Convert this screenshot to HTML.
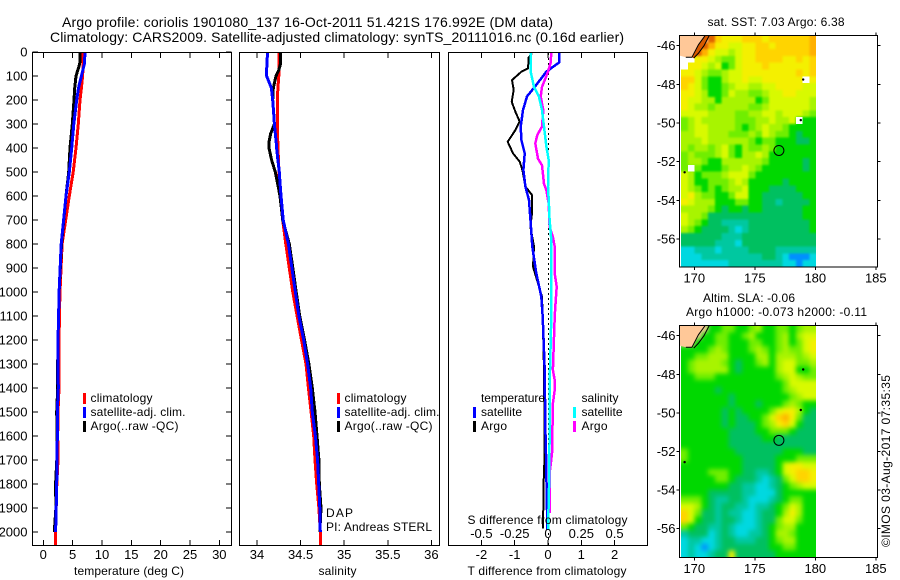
<!DOCTYPE html>
<html lang="en">
<head>
<meta charset="utf-8">
<title>Argo profile chart</title>
<style>
html,body{margin:0;padding:0;background:#fff;width:900px;height:580px;overflow:hidden}
svg{display:block}
text{font-family:"Liberation Sans",sans-serif;font-size:12px;fill:#000}
</style>
</head>
<body>
<svg id="chart" xmlns="http://www.w3.org/2000/svg" width="900" height="580" viewBox="0 0 900 580">
<defs>
<clipPath id="clip-t"><rect x="32.5" y="52" width="199" height="493.5"/></clipPath>
<clipPath id="clip-s"><rect x="239.5" y="52" width="200" height="493.5"/></clipPath>
<clipPath id="clip-d"><rect x="448.5" y="52" width="199.5" height="493.5"/></clipPath>
<clipPath id="clip-m1"><rect x="681" y="35.5" width="135" height="231.5"/></clipPath>
<clipPath id="clip-m2"><rect x="681" y="325.5" width="135" height="232"/></clipPath>
<clipPath id="clip-f1"><rect x="679.5" y="35.5" width="198" height="231.5"/></clipPath>
<clipPath id="clip-f2"><rect x="679.5" y="325.5" width="198" height="232"/></clipPath>
<filter id="blur-sst" x="-10%" y="-10%" width="120%" height="120%" color-interpolation-filters="sRGB"><feGaussianBlur stdDeviation="1.1"/></filter>
<filter id="blur-sla" x="-10%" y="-10%" width="120%" height="120%" color-interpolation-filters="sRGB"><feGaussianBlur stdDeviation="2.4"/></filter>
</defs>
</svg>
<script>
// ---------- profile data ----------
const tempDepths = [0,50,100,150,200,300,400,500,600,800,1000,1100,1200,1300,1400,1500,1600,1700,1800,1900,2000,2055];
const tempClim = [6.8,6.8,6.7,6.5,6.25,5.96,5.57,5.1,4.43,3.2,2.85,2.75,2.7,2.65,2.67,2.5,2.45,2.5,2.3,2.2,2.1,2.1];
const tempSat = [7.1,7,6.5,6,5.7,5.2,4.84,4.43,3.87,3.05,2.7,2.6,2.5,2.5,2.55,2.39,2.39,2.35,2.28,2.2,2.1];
const tempArgo = [6.3,6.2,5.57,5.35,5.23,4.94,4.55,4.33,3.87,3.1,2.7,2.6,2.5,2.45,2.45,2.28,2.35,2.3,2.1,2.15,1.87];
const salDepths = [0,50,75,100,150,200,250,300,340,375,400,450,500,550,600,700,800,900,1000,1100,1200,1300,1400,1500,1600,1700,1800,1900,2000,2055];
const salClim = [34.25,34.25,34.25,34.25,34.24,34.233,34.233,34.233,34.235,34.238,34.24,34.246,34.252,34.26,34.27,34.295,34.33,34.37,34.41,34.46,34.51,34.562,34.59,34.62,34.65,34.665,34.685,34.71,34.726,34.726];
const salSat = [34.12,34.115,34.11,34.11,34.165,34.18,34.19,34.2,34.21,34.22,34.225,34.24,34.256,34.265,34.275,34.3,34.36,34.4,34.44,34.48,34.535,34.58,34.616,34.634,34.67,34.695,34.707,34.72,34.726];
const salArgo = [34.27,34.27,34.25,34.218,34.187,34.18,34.19,34.2,34.157,34.138,34.138,34.168,34.21,34.237,34.264,34.295,34.37,34.41,34.45,34.49,34.545,34.595,34.634,34.665,34.688,34.71,34.715,34.734,34.72];
const dtSatDepths = [0,44,82,146,185,242,311,367,422,492,561,617,713,811,922,1019,1103,1325,1561,1673,1908,1992];
const dtSat = [0.33,0.33,-0.05,-0.4,-0.63,-0.75,-0.82,-0.8,-0.7,-0.74,-0.68,-0.57,-0.52,-0.47,-0.35,-0.2,-0.16,-0.1,-0.08,-0.06,-0.03,-0.02];
const dtArgoDepths = [5,23,68,82,117,158,207,249,290,325,374,422,457,492,561,596,672,728,811,894,1019,1103,1325,1673,1783,1986];
const dtArgo = [-0.48,-0.58,-0.6,-0.8,-1.08,-1.03,-1.09,-0.98,-0.85,-0.98,-1.21,-1.05,-0.85,-0.77,-0.68,-0.48,-0.48,-0.53,-0.42,-0.45,-0.18,-0.16,-0.12,-0.1,-0.13,-0.15];
const dsSatDepths = [0,82,146,186,242,311,394,450,561,630,700,783,1103,1325,1600,1800,1992];
const dsSat = [-0.13,-0.13,-0.105,-0.068,-0.045,-0.03,-0.012,0.005,0,0.007,0.012,0.025,0.025,0.015,0.012,0.008,0];
const dsArgoDepths = [0,44,82,146,186,242,311,346,381,444,472,549,576,632,729,771,811,922,978,1061,1103,1325,1367,1408,1464,1673,1742,1921];
const dsArgo = [0.025,0.02,0,-0.045,-0.055,-0.035,-0.045,-0.08,-0.095,-0.075,-0.045,-0.03,-0.012,0.005,0.012,0.037,0.05,0.05,0.065,0.055,0.05,0.037,0.05,0.05,0.037,0.03,0.015,0.012];

// ---------- ticks ----------
const depthTicks = [0,100,200,300,400,500,600,700,800,900,1000,1100,1200,1300,1400,1500,1600,1700,1800,1900,2000];
const tempTicks = [0,5,10,15,20,25,30];
const salTicks = [34,34.5,35,35.5,36];
const dtTicks = [-2,-1,0,1,2];
const dsTicks = [-0.5,-0.25,0,0.25,0.5];
const lonTicks = [170,175,180,185];
const latTicks = [46,48,50,52,54,56];

// ---------- map grids (level index; 12 = land, 13 = missing) ----------
const levelColors = ['#0090ff','#00d8e0','#00c8a0','#00c060','#00d800','#70ee00','#a8f400','#d8fa00','#f4f000','#ffd400','#ffb000','#e06400','#ffc898','#ffffff'];
const sstGrid = [
[12,12,12,12,11,9,8,8,8,9,9,9,8,9,9,9,9,9,9,10],
[12,12,12,11,10,8,8,7,7,8,8,9,9,8,9,9,9,9,9,10],
[12,12,11,10,8,7,7,6,7,8,8,9,9,9,9,9,9,9,9,10],
[13,13,8,8,7,6,5,5,7,8,8,9,9,9,9,8,8,9,8,9],
[13,8,8,7,6,7,4,5,7,8,8,8,9,8,8,8,8,8,8,9],
[8,8,7,6,5,5,6,7,7,8,8,8,8,8,8,8,8,9,8,9],
[9,9,7,5,4,4,6,7,7,8,7,7,8,8,8,8,8,8,13,8],
[9,8,7,5,4,4,5,6,7,7,6,6,7,7,8,8,8,8,7,7],
[8,8,7,6,4,4,5,7,6,6,5,5,6,7,7,8,8,7,7,7],
[8,7,7,6,6,4,6,6,6,6,6,4,5,7,7,7,7,7,7,6],
[8,7,6,6,5,6,6,6,6,6,5,5,6,7,7,7,7,7,7,6],
[7,7,7,7,6,6,6,6,5,5,6,6,7,7,6,7,7,7,6,5],
[5,6,7,6,6,6,6,6,5,5,5,6,6,7,6,6,7,13,4,4],
[5,6,7,7,6,6,6,6,5,4,5,6,7,6,6,5,4,4,4,4],
[6,6,7,7,6,6,6,5,5,5,6,5,7,6,5,5,4,3,4,4],
[6,6,6,7,6,6,6,6,6,6,5,4,5,5,4,4,4,3,3,4],
[6,5,6,6,5,6,7,5,4,6,5,5,6,5,4,4,4,4,4,4],
[5,6,5,5,5,6,7,5,4,6,6,7,6,4,4,4,4,4,4,4],
[5,6,6,5,4,4,6,6,6,6,6,6,5,4,4,4,4,4,3,4],
[5,13,5,4,4,4,5,6,6,7,6,5,4,4,4,4,4,4,3,4],
[7,6,4,5,5,5,6,7,7,7,5,4,4,4,4,4,4,4,4,4],
[7,6,4,4,5,5,5,6,7,6,4,4,4,4,4,3,4,4,4,4],
[7,6,5,4,5,4,5,6,6,7,4,4,4,3,3,3,3,4,4,4],
[7,8,6,5,5,4,4,5,7,7,4,4,3,3,3,3,3,3,4,4],
[8,7,6,6,6,4,4,4,5,5,4,4,3,3,2,3,3,3,3,4],
[6,6,6,6,5,4,3,4,4,3,4,4,3,3,3,3,3,3,4,4],
[7,6,6,5,3,3,3,3,3,3,3,3,3,3,3,3,3,3,4,4],
[7,6,5,4,3,3,2,2,2,2,3,3,3,3,3,3,3,3,3,4],
[6,5,4,3,3,3,3,2,1,2,3,3,3,3,3,3,3,3,3,4],
[3,3,3,3,3,3,2,2,2,3,3,3,3,3,3,3,3,3,3,3],
[3,3,3,3,3,2,2,2,1,3,3,3,3,3,3,3,3,3,3,3],
[1,1,2,2,2,1,2,2,2,2,3,3,3,3,2,2,2,2,2,2],
[1,1,1,2,2,2,2,2,2,2,2,2,3,3,2,1,0,0,0,1],
[1,1,1,1,1,1,1,2,2,2,2,2,2,2,2,1,1,0,1,1]
];
const slaGrid = [
[12,12,12,12,4,4,5,5,4,4,5,6,4,4,5,5,4,5,6,6],
[12,12,12,4,4,5,5,4,4,5,6,4,4,4,5,6,4,6,7,7],
[12,12,4,4,4,5,5,4,4,4,5,5,4,4,5,6,4,5,7,8],
[4,4,4,4,5,6,5,4,4,4,5,6,5,4,5,6,5,5,7,8],
[4,4,5,5,6,6,6,4,4,4,4,6,6,4,6,6,6,5,6,7],
[4,5,6,6,6,6,5,4,3,4,4,5,6,4,6,7,7,5,5,6],
[4,5,6,6,6,6,6,4,3,4,4,4,4,4,6,7,7,4,4,5],
[4,4,5,5,5,4,4,4,4,4,4,4,4,4,5,6,7,6,5,5],
[4,4,4,4,4,4,4,4,4,4,4,4,4,4,4,5,7,7,7,7],
[4,4,4,4,4,3,4,4,4,4,4,4,4,4,4,5,6,7,7,7],
[4,4,4,4,4,4,4,3,4,4,4,4,4,4,4,4,5,6,7,7],
[4,4,4,4,4,4,4,3,4,4,4,3,4,4,4,5,6,5,4,4],
[4,4,4,4,4,4,3,4,3,4,4,4,4,5,7,8,8,6,4,3],
[4,4,4,4,4,4,3,4,3,3,4,4,5,7,9,10,8,5,3,3],
[4,4,4,4,4,4,3,4,3,3,3,4,5,6,8,9,7,4,3,3],
[4,4,4,4,4,4,4,3,3,3,3,4,4,5,5,5,4,3,3,3],
[4,4,4,4,4,4,4,3,3,3,3,3,4,4,3,3,3,3,3,3],
[4,4,4,4,4,4,4,3,3,3,3,3,3,3,3,3,3,3,3,3],
[5,4,4,4,4,4,4,4,3,3,3,3,3,3,3,4,4,4,3,3],
[5,4,4,4,4,4,4,4,4,3,3,3,3,3,4,4,4,5,5,5],
[4,4,4,4,4,4,4,4,4,3,3,3,3,3,4,7,8,8,7,7],
[4,4,4,4,5,5,5,4,4,3,3,2,2,3,4,7,8,9,9,8],
[4,4,4,4,4,5,5,4,3,3,3,2,1,2,3,5,7,9,9,8],
[4,4,4,4,4,4,4,3,3,2,2,1,1,2,3,4,5,6,7,7],
[4,4,4,4,3,3,3,3,3,2,2,1,1,1,3,4,4,4,4,4],
[5,5,5,4,3,2,2,3,3,2,1,1,1,2,3,4,5,5,4,4],
[7,7,6,4,3,2,3,3,2,2,1,2,2,3,4,5,7,6,4,4],
[9,7,5,3,3,2,3,2,2,1,1,2,3,3,4,6,8,6,4,4],
[9,7,4,3,3,2,3,3,2,1,1,2,3,3,5,7,7,5,4,4],
[5,4,3,3,2,2,3,2,1,1,1,2,3,4,5,6,6,4,4,4],
[2,3,3,3,1,2,3,2,1,1,2,2,3,4,6,6,5,4,4,4],
[1,2,2,1,1,2,3,3,2,2,2,3,3,4,5,6,6,4,4,4],
[1,2,1,0,1,2,3,3,3,3,3,3,3,4,4,5,5,4,4,4],
[1,2,1,1,2,3,3,8,3,3,3,3,3,3,4,4,4,4,4,4]
];
const landLons = [168.7,170.98,170.35,169.8,169.3,168.7];
const landLats = [45.4,45.4,45.95,46.6,46.6,46.5];
const shelfLons = [171.3,170.98,170.35,169.8,169.95,170.8];
const shelfLats = [45.4,45.4,45.95,46.6,46.64,46];
const coast2Lons = [171.3,170.8,170.33,169.95];
const coast2Lats = [45.4,46,46.4,46.64];
const islandLons = [179,178.8,169.2];
const islandLats = [47.75,49.85,52.55];
const argoLon = 176.992;
const argoLat = 51.421;

// ---------- axis functions ----------
const yDepth = d => 52 + 0.24 * d;
const xTemp = t => 43.3 + 5.867 * t;
const xSal = s => 257 + 87.2 * (s - 34);
const xDT = t => 548 + 33.3 * t;
const xDS = s => 548 + 133.2 * s;
const xLon = lon => 694.3 + 12.1 * (lon - 170);
const yLat1 = lat => 45.7 + 19.33 * (lat - 46);
const yLat2 = lat => 335.7 + 19.3 * (lat - 46);
const cellX = c => 681 + 6.75 * c;
const cellY1 = r => 35.5 + (231.5 / 34) * r;
const cellY2 = r => 325.5 + (232 / 34) * r;

const svg = document.getElementById('chart');
const NS = 'http://www.w3.org/2000/svg';
function mk(tag, attrs, parent) {
  const el = document.createElementNS(NS, tag);
  for (const k in attrs) el.setAttribute(k, attrs[k]);
  (parent || svg).appendChild(el);
  return el;
}
function label(str, x, y, name, opts) {
  const a = Object.assign({x: x, y: y}, opts || {});
  const el = mk('text', a);
  el.textContent = str;
  
  
  return el;
}
function line(x1, y1, x2, y2, name, parent) {
  const el = mk('line', {x1: x1, y1: y1, x2: x2, y2: y2, stroke: '#000', 'stroke-width': 1, 'shape-rendering': 'crispEdges'}, parent);
  
  
  return el;
}
function frame(x, y, w, h, name) {
  const el = mk('rect', {x: x, y: y, width: w, height: h, fill: 'none', stroke: '#000', 'stroke-width': 1, 'shape-rendering': 'crispEdges'});
  
  
  return el;
}
function series(vals, depths, xf, color, width, clip, name) {
  const pts = [];
  for (let i = 0; i < vals.length && i < depths.length; i++) pts.push(xf(vals[i]).toFixed(1) + ',' + yDepth(depths[i]).toFixed(1));
  const el = mk('polyline', {points: pts.join(' '), fill: 'none', stroke: color, 'stroke-width': width, 'clip-path': 'url(#' + clip + ')', 'shape-rendering': 'crispEdges'});
  
  
  return el;
}
function legendMark(x, y, color, name) {
  const el = mk('rect', {x: x, y: y, width: 3, height: 11, fill: color, 'shape-rendering': 'crispEdges'});
  
  
}

// ---------- titles ----------
label('Argo profile: coriolis 1901080_137 16-Oct-2011 51.421S 176.992E (DM data)', 62, 27, 'chart-title-line-1', {textLength: 491, style: 'font-size:14px'});
label('Climatology: CARS2009. Satellite-adjusted climatology: synTS_20111016.nc (0.16d earlier)', 50, 42, 'chart-title-line-2', {textLength: 574, style: 'font-size:14px'});

// ---------- temperature panel ----------
series(tempClim, tempDepths, xTemp, '#ff0000', 3, 'clip-t', 'temperature-climatology-line');
series(tempArgo, tempDepths, xTemp, '#000000', 3, 'clip-t', 'temperature-argo-line');
series(tempSat, tempDepths, xTemp, '#0000ff', 3, 'clip-t', 'temperature-satellite-line');
frame(32.5, 52.5, 199, 493, 'temperature-panel-frame');
depthTicks.forEach(d => {
  line(32.5, yDepth(d), 38, yDepth(d), 'depth-tick-left');
  line(226, yDepth(d), 231.5, yDepth(d), 'depth-tick-right');
  label(String(d), 27.5, yDepth(d) + 4.5, 'depth-tick-label', {'text-anchor': 'end', style: 'font-size:13px'});
});
tempTicks.forEach(t => {
  line(xTemp(t), 52.5, xTemp(t), 58, 'temperature-tick-top');
  line(xTemp(t), 540, xTemp(t), 545.5, 'temperature-tick-bottom');
  label(String(t), xTemp(t), 559, 'temperature-tick-label', {'text-anchor': 'middle', style: 'font-size:13px'});
});
label('temperature (deg C)', 74, 575, 'temperature-axis-title', {textLength: 110});
legendMark(83, 393, '#ff0000', 'temperature-legend-climatology-mark');
legendMark(83, 407, '#0000ff', 'temperature-legend-satellite-mark');
legendMark(83, 421, '#000000', 'temperature-legend-argo-mark');
label('climatology', 90.5, 402, 'temperature-legend-climatology', {textLength: 62});
label('satellite-adj. clim.', 90.5, 416, 'temperature-legend-satellite', {textLength: 95});
label('Argo(..raw -QC)', 90.5, 430, 'temperature-legend-argo', {textLength: 88});

// ---------- salinity panel ----------
series(salClim, salDepths, xSal, '#ff0000', 3, 'clip-s', 'salinity-climatology-line');
series(salArgo, salDepths, xSal, '#000000', 3, 'clip-s', 'salinity-argo-line');
series(salSat, salDepths, xSal, '#0000ff', 3, 'clip-s', 'salinity-satellite-line');
frame(239.5, 52.5, 200, 493, 'salinity-panel-frame');
salTicks.forEach(s => {
  line(xSal(s), 52.5, xSal(s), 58, 'salinity-tick-top');
  line(xSal(s), 540, xSal(s), 545.5, 'salinity-tick-bottom');
  label(String(s), xSal(s), 559, 'salinity-tick-label', {'text-anchor': 'middle', style: 'font-size:13px'});
});
label('salinity', 318.5, 575, 'salinity-axis-title', {textLength: 38});
legendMark(337, 393, '#ff0000', 'salinity-legend-climatology-mark');
legendMark(337, 407, '#0000ff', 'salinity-legend-satellite-mark');
legendMark(337, 421, '#000000', 'salinity-legend-argo-mark');
label('climatology', 344.5, 402, 'salinity-legend-climatology', {textLength: 62});
label('satellite-adj. clim.', 344.5, 416, 'salinity-legend-satellite', {textLength: 95});
label('Argo(..raw -QC)', 344.5, 430, 'salinity-legend-argo', {textLength: 88});
label('DAP', 326, 517, 'dac-label', {textLength: 27});
label('PI: Andreas STERL', 326, 531, 'principal-investigator-label', {textLength: 106});

// ---------- difference panel ----------
for (let y = yDepth(0) + 1; y < 545; y += 5) {
  const dot = mk('rect', {x: xDT(0), y: y, width: 1, height: 2, fill: '#000', 'shape-rendering': 'crispEdges'});
  
  
}
series(dtArgo, dtArgoDepths, xDT, '#000000', 2, 'clip-d', 'temperature-difference-argo-line');
series(dtSat, dtSatDepths, xDT, '#0000ff', 2.5, 'clip-d', 'temperature-difference-satellite-line');
series(dsArgo, dsArgoDepths, xDS, '#ff00ff', 2.5, 'clip-d', 'salinity-difference-argo-line');
series(dsSat, dsSatDepths, xDS, '#00ffff', 2.5, 'clip-d', 'salinity-difference-satellite-line');
frame(448.5, 52.5, 199, 493, 'difference-panel-frame');
dtTicks.forEach(t => {
  line(xDT(t), 52.5, xDT(t), 58, 'difference-tick-top');
  line(xDT(t), 540, xDT(t), 545.5, 'difference-tick-bottom');
  label(String(t), xDT(t), 559, 'temperature-difference-tick-label', {'text-anchor': 'middle', style: 'font-size:13px'});
});
dsTicks.forEach(s => {
  label(String(s), xDS(s), 538, 'salinity-difference-tick-label', {'text-anchor': 'middle', style: 'font-size:13px'});
});
label('S difference from climatology', 467.5, 524, 'salinity-difference-axis-title', {textLength: 160});
label('T difference from climatology', 467.5, 575, 'temperature-difference-axis-title', {textLength: 159});
label('temperature', 481, 402, 'difference-legend-temperature-heading', {textLength: 64});
label('satellite', 481, 416, 'difference-legend-temperature-satellite', {textLength: 41});
label('Argo', 481, 430, 'difference-legend-temperature-argo', {textLength: 26});
label('salinity', 581.5, 402, 'difference-legend-salinity-heading', {textLength: 37});
label('satellite', 581.5, 416, 'difference-legend-salinity-satellite', {textLength: 41});
label('Argo', 581.5, 430, 'difference-legend-salinity-argo', {textLength: 26});
legendMark(473, 407, '#0000ff', 'difference-legend-temperature-satellite-mark');
legendMark(473, 421, '#000000', 'difference-legend-temperature-argo-mark');
legendMark(573, 407, '#00ffff', 'difference-legend-salinity-satellite-mark');
legendMark(573, 421, '#ff00ff', 'difference-legend-salinity-argo-mark');

// ---------- maps ----------
function drawMap(grid, cy, yLat, top, bottom, clip, frameClip, blurId, fillShelf, prefix) {
  const clipGroup = mk('g', {'clip-path': 'url(#' + clip + ')'});
  
  
  const blurGroup = mk('g', {filter: 'url(#' + blurId + ')'}, clipGroup);
  const nRows = grid.length;
  const nCols = grid[0].length;
  grid.forEach((row, r) => {
    row.forEach((lvl, c) => {
      // missing cells are painted crisply on top; underneath, use a neighbouring level
      let under = lvl;
      if (lvl === 13) {
        const nxt = row.slice(c + 1).find(v => v !== 13);
        under = nxt === undefined ? row[c - 1] : nxt;
      }
      // edge cells reach past the clip so the blur does not fade at the border
      const x0 = cellX(c) - (c === 0 ? 10 : 0);
      const x1 = cellX(c + 1) + 0.3 + (c === nCols - 1 ? 10 : 0);
      const y0 = cy(r) - (r === 0 ? 10 : 0);
      const y1 = cy(r + 1) + 0.3 + (r === nRows - 1 ? 10 : 0);
      const cell = mk('rect', {x: x0.toFixed(2), y: y0.toFixed(2), width: (x1 - x0).toFixed(2), height: (y1 - y0).toFixed(2), fill: levelColors[under], 'shape-rendering': 'crispEdges'}, blurGroup);
      
      
    });
  });
  grid.forEach((row, r) => {
    row.forEach((lvl, c) => {
      if (lvl !== 13) return;
      const miss = mk('rect', {x: cellX(c).toFixed(2), y: cy(r).toFixed(2), width: 6.75, height: 6.8, fill: levelColors[13], 'shape-rendering': 'crispEdges'}, clipGroup);
      
      
    });
  });
  const poly = (lons, lats) => lons.map((v, i) => xLon(v).toFixed(1) + ',' + yLat(lats[i]).toFixed(1)).join(' ');
  if (fillShelf) {
    const shelf = mk('polygon', {points: poly(shelfLons, shelfLats), fill: '#d85a00', 'clip-path': 'url(#' + frameClip + ')'});
    
    
  }
  const land = mk('polygon', {points: poly(landLons, landLats), fill: '#ffc898', 'clip-path': 'url(#' + frameClip + ')'});
  
  
  const coast = mk('polyline', {points: poly(landLons.slice(1, 5), landLats.slice(1, 5)), fill: 'none', stroke: '#000', 'stroke-width': 1, 'clip-path': 'url(#' + frameClip + ')'});
  
  
  const coast2 = mk('polyline', {points: poly(coast2Lons, coast2Lats), fill: 'none', stroke: '#000', 'stroke-width': 1, 'clip-path': 'url(#' + frameClip + ')'});
  
  
  islandLons.forEach((lon, i) => {
    const isl = mk('circle', {cx: xLon(lon), cy: yLat(islandLats[i]), r: 1.2, fill: '#000'});
    
    
  });
  const ring = mk('circle', {cx: xLon(argoLon), cy: yLat(argoLat), r: 5, fill: 'none', stroke: '#000', 'stroke-width': 1});
  
  
  frame(679.5, top, 198, bottom - top, prefix + '-frame');
  lonTicks.forEach(lon => {
    line(xLon(lon), top - 3, xLon(lon), top, prefix + '-longitude-tick-top');
    line(xLon(lon), bottom, xLon(lon), bottom + 3, prefix + '-longitude-tick-bottom');
    label(String(lon), xLon(lon), bottom + 15.5, prefix + '-longitude-label', {'text-anchor': 'middle', style: 'font-size:13px'});
  });
  latTicks.forEach(lat => {
    line(676.5, yLat(lat), 679.5, yLat(lat), prefix + '-latitude-tick-left');
    line(877.5, yLat(lat), 880.5, yLat(lat), prefix + '-latitude-tick-right');
    label('-' + lat, 675.5, yLat(lat) + 4.5, prefix + '-latitude-label', {'text-anchor': 'end', style: 'font-size:13px'});
  });
}
drawMap(sstGrid, cellY1, yLat1, 35.5, 267, 'clip-m1', 'clip-f1', 'blur-sst', true, 'sst-map');
drawMap(slaGrid, cellY2, yLat2, 325.5, 557.5, 'clip-m2', 'clip-f2', 'blur-sla', false, 'sla-map');

label('sat. SST: 7.03 Argo: 6.38', 707.5, 26, 'sst-map-title', {textLength: 137});
label('Altim. SLA: -0.06', 703, 302, 'sla-map-title', {textLength: 92});
label('Argo h1000: -0.073 h2000: -0.11', 686, 316, 'argo-height-title', {textLength: 181});
label('©IMOS 03-Aug-2017 07:35:35', 0, 0, 'imos-timestamp', {transform: 'translate(890 547) rotate(-90)', textLength: 172});
</script>
</body>
</html>
